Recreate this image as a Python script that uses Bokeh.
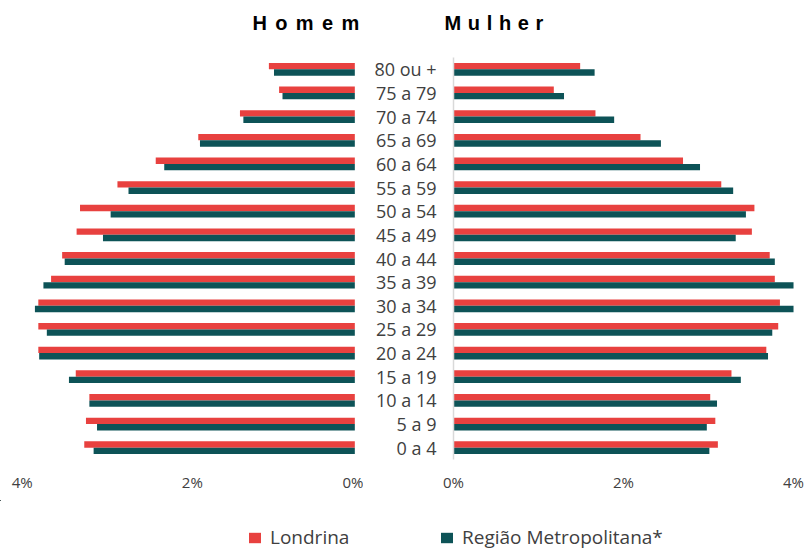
from bokeh.plotting import figure
from bokeh.layouts import row, column
from bokeh.models import (ColumnDataSource, FactorRange, Range1d, FixedTicker,
                          Label, Legend, LegendItem)
from bokeh.transform import dodge
from bokeh.embed import file_html
from bokeh.resources import INLINE

# ---------------- data ----------------
ages = ["0 a 4", "5 a 9", "10 a 14", "15 a 19", "20 a 24", "25 a 29", "30 a 34",
        "35 a 39", "40 a 44", "45 a 49", "50 a 54", "55 a 59", "60 a 64",
        "65 a 69", "70 a 74", "75 a 79", "80 ou +"]

homem_londrina = [3.18, 3.16, 3.12, 3.28, 3.72, 3.72, 3.72, 3.57, 3.44, 3.27,
                  3.23, 2.79, 2.34, 1.84, 1.35, 0.89, 1.01]
homem_rm = [3.07, 3.03, 3.12, 3.36, 3.71, 3.62, 3.76, 3.66, 3.41, 2.96,
            2.87, 2.66, 2.24, 1.82, 1.31, 0.85, 0.95]
mulher_londrina = [3.11, 3.08, 3.02, 3.27, 3.68, 3.82, 3.84, 3.78, 3.72, 3.51,
                   3.54, 3.15, 2.70, 2.20, 1.67, 1.18, 1.49]
mulher_rm = [3.01, 2.98, 3.10, 3.38, 3.70, 3.75, 4.00, 4.00, 3.78, 3.32,
             3.44, 3.29, 2.90, 2.44, 1.89, 1.30, 1.66]

panel_titles = ["Homem", "Mulher"]
series_names = ["Londrina", "Região Metropolitana*"]
left_tick_labels = {-0.09: "0%", 1.91: "2%", 3.91: "4%"}
right_tick_labels = {0: "0%", 2: "2%", 4: "4%"}

RED = "#E8413F"
TEAL = "#0D5357"
TXT = "#404040"
FONT = "Open Sans"
TFONT = "Liberation Sans"

src = ColumnDataSource(dict(age=ages, hl=homem_londrina, hr=homem_rm,
                            ml=mulher_londrina, mr=mulher_rm))

y_range = FactorRange(factors=ages, range_padding=0)


def strip(height, x_range, y_range_):
    p = figure(width=806, height=height, x_range=x_range, y_range=y_range_,
               output_backend="svg", toolbar_location=None,
               x_axis_type=None, y_axis_type=None,
               min_border=0, min_border_left=0, min_border_right=0,
               min_border_top=0, min_border_bottom=0)
    p.outline_line_color = None
    p.grid.visible = False
    return p


def base(width, left_border, right_border, x_range):
    p = figure(width=width, height=460, y_range=y_range, x_range=x_range,
               output_backend="svg", toolbar_location=None,
               min_border_left=left_border, min_border_right=right_border,
               min_border_top=17, min_border_bottom=41)
    p.outline_line_color = None
    p.grid.visible = False
    p.xaxis.axis_line_color = None
    p.xaxis.major_tick_line_color = None
    p.xaxis.minor_tick_line_color = None
    p.xaxis.major_label_text_font = FONT
    p.xaxis.major_label_text_font_size = "15px"
    p.xaxis.major_label_text_color = TXT
    p.xaxis.major_label_standoff = 6
    return p


BAR_H = 0.27
OFF = 0.135

# ---------------- titles strip ----------------
top = strip(40, Range1d(0, 1), Range1d(0, 1))
for txt, sep, xpos in [(panel_titles[0], "\u2005\u2006", 252),
                       (panel_titles[1], "\u2004", 444)]:
    top.add_layout(Label(x=xpos, y=18, x_units="screen", y_units="screen",
                         text=sep.join(txt), text_font=TFONT,
                         text_font_size="20px", text_font_style="bold",
                         text_color="#000000", text_baseline="middle",
                         text_align="left"))

# ---------------- left: Homem ----------------
left = base(363, 14, 0, Range1d(4.0, -0.102))
left.hbar(y=dodge("age", OFF, range=y_range), left=0, right="hl", height=BAR_H,
          source=src, fill_color=RED, line_color=None)
left.hbar(y=dodge("age", -OFF, range=y_range), left=0, right="hr", height=BAR_H,
          source=src, fill_color=TEAL, line_color=None)
left.yaxis.visible = False
left.xaxis.ticker = FixedTicker(ticks=list(left_tick_labels.keys()))
left.xaxis.major_label_overrides = left_tick_labels

# ---------------- right: Mulher ----------------
right = base(443, 90, 10, Range1d(0, 4.035))
right.hbar(y=dodge("age", OFF, range=y_range), left=0, right="ml", height=BAR_H,
           source=src, fill_color=RED, line_color=None)
right.hbar(y=dodge("age", -OFF, range=y_range), left=0, right="mr", height=BAR_H,
           source=src, fill_color=TEAL, line_color=None)
right.yaxis.axis_line_color = "#D9D9D9"
right.yaxis.axis_line_width = 1.5
right.yaxis.major_tick_line_color = None
right.yaxis.minor_tick_line_color = None
right.yaxis.major_label_text_font = FONT
right.yaxis.major_label_text_font_size = "18px"
right.yaxis.major_label_text_color = TXT
right.yaxis.major_label_standoff = 11
right.xaxis.ticker = FixedTicker(ticks=list(right_tick_labels.keys()))
right.xaxis.major_label_overrides = right_tick_labels

# ---------------- legend strip ----------------
# legend keys only: the series renderers here have zero bar height and lie
# outside the strip's visible ranges, so only the legend entries show
leg_y = FactorRange(factors=ages)
leg = strip(49, Range1d(10, 11), leg_y)
r1 = leg.hbar(y=dodge("age", 200, range=leg_y), left=0, right="hl", height=0,
              source=src, fill_color=RED, line_color=None)
r2 = leg.hbar(y=dodge("age", 200, range=leg_y), left=0, right="hr", height=0,
              source=src, fill_color=TEAL, line_color=None)
for rend, name, xloc in [(r1, series_names[0], 247), (r2, series_names[1], 439)]:
    lg = Legend(items=[LegendItem(label=name, renderers=[rend])],
                location=(xloc, -1), orientation="horizontal",
                padding=0, margin=0, border_line_color=None,
                background_fill_alpha=0, glyph_width=15, glyph_height=13,
                label_standoff=8, label_text_font=FONT,
                label_text_font_size="19px", label_text_color=TXT)
    leg.add_layout(lg, "center")

layout = column(top, row(left, right), leg)

with open("out.html", "w") as f:
    f.write(file_html(layout, INLINE))
